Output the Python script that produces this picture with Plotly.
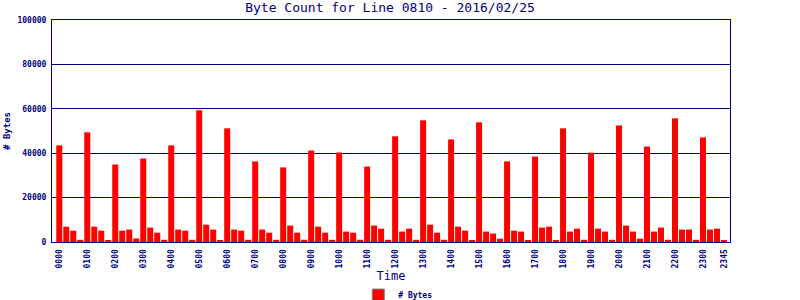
import plotly.graph_objects as go

# 15-minute time slots
times = [f"{h:02d}{m:02d}" for h in range(24) for m in (0, 15, 30, 45)]

# Byte counts per slot
bytes_h00 = [43500, 6900, 5100, 1000]
bytes_h01 = [49400, 6900, 5100, 600]
bytes_h02 = [34900, 5100, 5600, 1600]
bytes_h03 = [37600, 6500, 4200, 1000]
bytes_h04 = [43500, 5600, 5100, 1000]
bytes_h05 = [59300, 7800, 5600, 600]
bytes_h06 = [51200, 5600, 5100, 1000]
bytes_h07 = [36300, 5600, 4200, 1000]
bytes_h08 = [33600, 7400, 4200, 1000]
bytes_h09 = [41200, 6900, 4200, 1000]
bytes_h10 = [40300, 4700, 4200, 1000]
bytes_h11 = [34000, 7400, 6000, 1000]
bytes_h12 = [47600, 4700, 6000, 1000]
bytes_h13 = [54800, 7800, 4200, 1000]
bytes_h14 = [46200, 6900, 5100, 600]
bytes_h15 = [53900, 4700, 3800, 1500]
bytes_h16 = [36300, 5100, 4700, 600]
bytes_h17 = [38500, 6500, 6900, 600]
bytes_h18 = [51200, 4700, 6000, 1000]
bytes_h19 = [40200, 6000, 4700, 1000]
bytes_h20 = [52500, 7400, 4700, 1500]
bytes_h21 = [43000, 4700, 6500, 1000]
bytes_h22 = [55700, 5600, 5600, 1000]
bytes_h23 = [47100, 5600, 6000, 600]

byte_counts = (bytes_h00 + bytes_h01 + bytes_h02 + bytes_h03 + bytes_h04 + bytes_h05
               + bytes_h06 + bytes_h07 + bytes_h08 + bytes_h09 + bytes_h10 + bytes_h11
               + bytes_h12 + bytes_h13 + bytes_h14 + bytes_h15 + bytes_h16 + bytes_h17
               + bytes_h18 + bytes_h19 + bytes_h20 + bytes_h21 + bytes_h22 + bytes_h23)

tick_labels = [f"{h:02d}00" for h in range(24)] + ["2345"]
y_ticks = [0, 20000, 40000, 60000, 80000, 100000]

NAVY = "#000080"
MONO = "DejaVu Sans Mono"

fig = go.Figure()
fig.add_trace(go.Bar(
    x=times, y=byte_counts, name="# Bytes", showlegend=False,
    marker=dict(color="#FF0000", line=dict(width=0)),
))
# legend entry (red swatch with grey border, as in the reference)
fig.add_trace(go.Bar(
    x=[None], y=[None], name="# Bytes", showlegend=True,
    marker=dict(color="#FF0000", line=dict(width=1, color="#808080")),
))

fig.update_layout(
    width=800, height=300,
    margin=dict(l=52, r=70, t=20, b=58, autoexpand=False),
    paper_bgcolor="white", plot_bgcolor="white",
    bargap=1/7, barmode="overlay",
    title=dict(text="Byte Count for Line 0810 - 2016/02/25",
               font=dict(family=MONO, size=13, color=NAVY),
               x=0.4875, xanchor="center", y=0.975, yanchor="middle"),
    showlegend=True,
    legend=dict(orientation="h", x=0.51, xanchor="center", y=-0.239, yanchor="middle",
                font=dict(family=MONO, size=8, color=NAVY, weight="bold"),
                itemwidth=30, bgcolor="rgba(0,0,0,0)"),
    xaxis=dict(type="category", categoryorder="array", categoryarray=times,
               range=[-1.04, 95.86], automargin=False,
               tickmode="array", tickvals=tick_labels, ticktext=tick_labels,
               tickangle=-90, tickfont=dict(family=MONO, size=8, color=NAVY, weight="bold"),
               showgrid=False, showline=True, linecolor=NAVY, linewidth=1, mirror=True,
               ticks="outside", ticklen=3, tickcolor="white",
               title=dict(text="Time", font=dict(family=MONO, size=12, color=NAVY), standoff=4)),
    yaxis=dict(range=[0, 100000], tickvals=y_ticks, ticktext=[str(v) for v in y_ticks],
               automargin=False,
               tickfont=dict(family=MONO, size=8, color=NAVY, weight="bold"),
               showgrid=True, gridcolor=NAVY, gridwidth=1,
               showline=True, linecolor=NAVY, linewidth=1, mirror=True,
               zeroline=False, ticks="outside", ticklen=3, tickcolor="white",
               title=dict(text="# Bytes", font=dict(family=MONO, size=9, color=NAVY, weight="bold"),
                          standoff=5)),
)

fig.write_html("out.html")
